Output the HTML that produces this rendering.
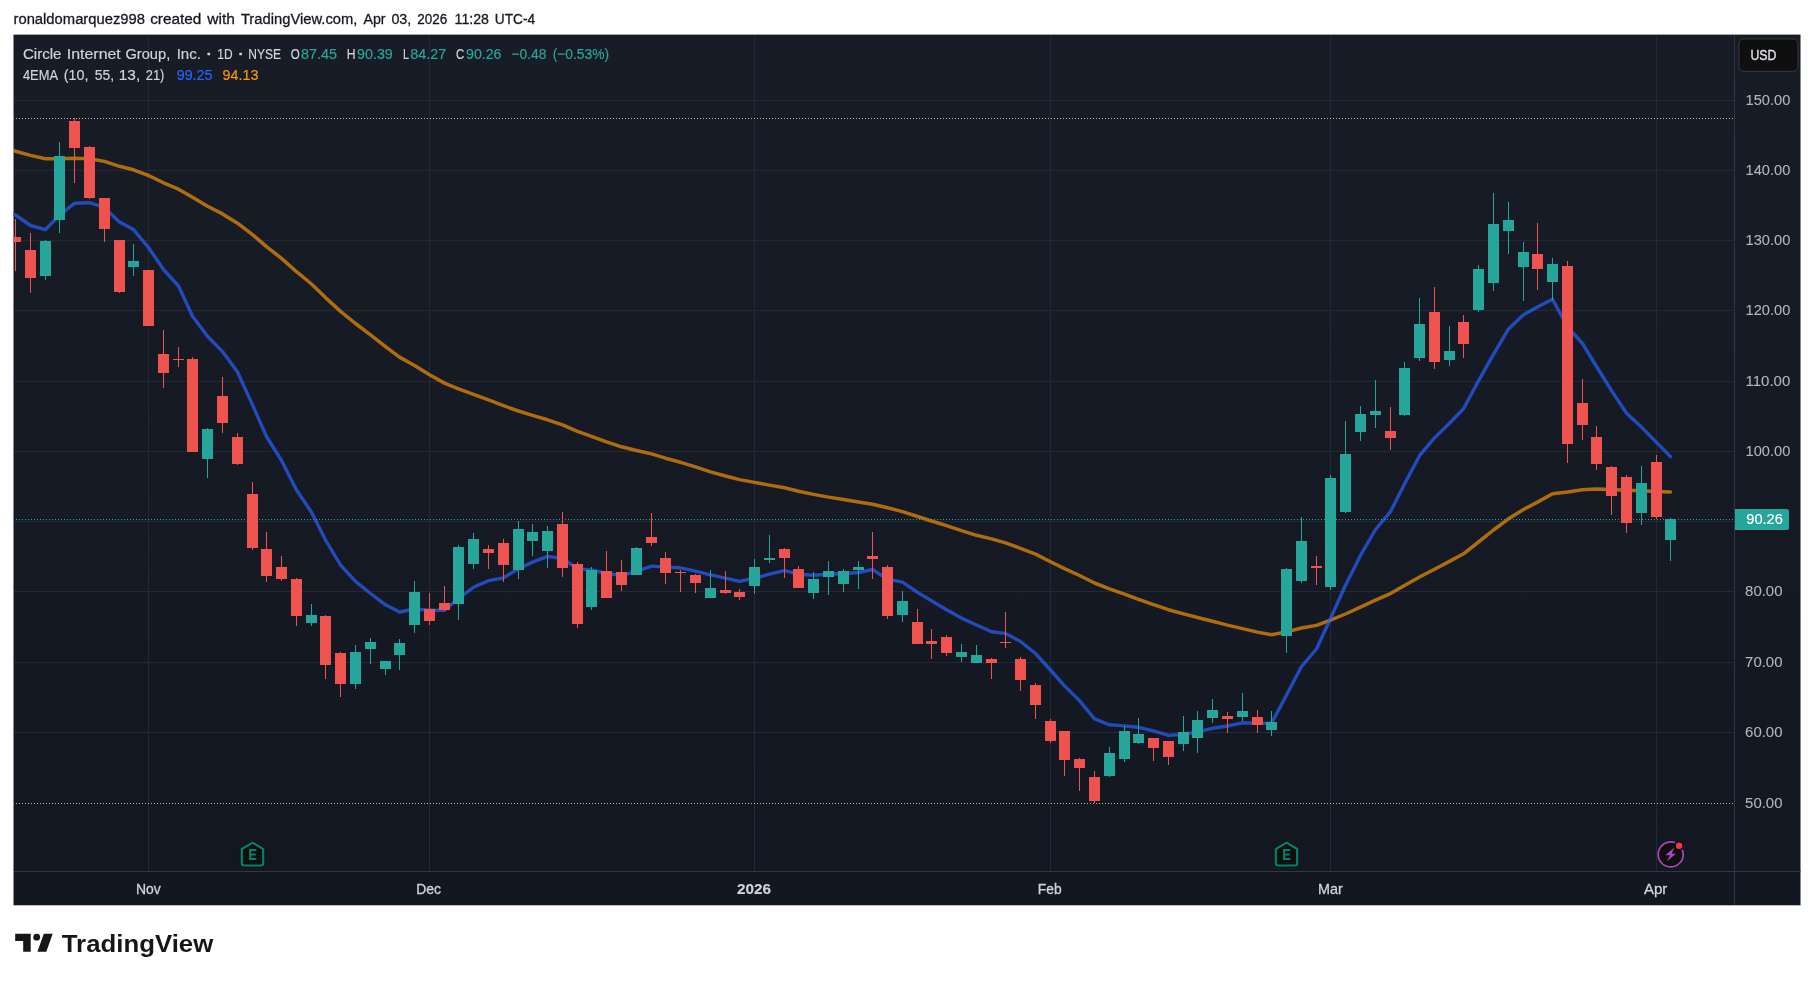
<!DOCTYPE html>
<html><head><meta charset="utf-8"><title>CRCL chart</title>
<style>html,body{margin:0;padding:0;background:#fff;}body{width:1814px;height:981px;overflow:hidden;font-family:"Liberation Sans",sans-serif;}svg{display:block;position:absolute;left:0;top:0;will-change:transform;}text{font-family:"Liberation Sans",sans-serif;}</style>
</head><body>
<svg width="1814" height="981" viewBox="0 0 1814 981">
<defs><linearGradient id="bg" x1="0" y1="0" x2="0" y2="1"><stop offset="0" stop-color="#181c27"/><stop offset="1" stop-color="#131722"/></linearGradient>
<clipPath id="pane"><rect x="13" y="35" width="1721" height="836"/></clipPath></defs>
<rect x="13.5" y="34.6" width="1787.0" height="870.6999999999999" fill="url(#bg)"/>
<rect x="14" y="100" width="1720" height="1" fill="#242834"/>
<rect x="14" y="170" width="1720" height="1" fill="#242834"/>
<rect x="14" y="240" width="1720" height="1" fill="#242834"/>
<rect x="14" y="310" width="1720" height="1" fill="#242834"/>
<rect x="14" y="381" width="1720" height="1" fill="#242834"/>
<rect x="14" y="451" width="1720" height="1" fill="#242834"/>
<rect x="14" y="521" width="1720" height="1" fill="#242834"/>
<rect x="14" y="591" width="1720" height="1" fill="#242834"/>
<rect x="14" y="662" width="1720" height="1" fill="#242834"/>
<rect x="14" y="732" width="1720" height="1" fill="#242834"/>
<rect x="148" y="35" width="1" height="836" fill="#242834"/>
<rect x="429" y="35" width="1" height="836" fill="#242834"/>
<rect x="754" y="35" width="1" height="836" fill="#242834"/>
<rect x="1050" y="35" width="1" height="836" fill="#242834"/>
<rect x="1330" y="35" width="1" height="836" fill="#242834"/>
<rect x="1656" y="35" width="1" height="836" fill="#242834"/>
<rect x="1734" y="35" width="1" height="870" fill="#323642"/>
<rect x="14" y="871" width="1786.5" height="1" fill="#323642"/>
<line x1="13" y1="118.5" x2="1734" y2="118.5" stroke="#b5b7be" stroke-width="1" stroke-dasharray="1 2" shape-rendering="crispEdges"/>
<line x1="13" y1="803.5" x2="1734" y2="803.5" stroke="#b5b7be" stroke-width="1" stroke-dasharray="1 2" shape-rendering="crispEdges"/>
<g clip-path="url(#pane)" fill="none" stroke-linejoin="round" stroke-linecap="round">
<polyline stroke="#ff9800" stroke-opacity="0.66" stroke-width="3.5" points="11.0,149.9 15.5,151.2 30.5,155.4 45.5,158.7 59.5,158.7 74.5,158.2 89.5,158.7 104.5,161.4 119.5,166.3 133.5,169.8 148.5,175.5 163.5,182.8 178.5,189.2 192.5,197.3 207.5,206.3 222.5,213.9 237.5,223.2 252.5,234.6 266.5,246.6 281.5,258.4 296.5,271.7 311.5,284.0 325.5,297.6 340.5,311.4 355.5,323.5 370.5,334.9 385.5,346.6 399.5,357.1 414.5,365.5 429.5,374.7 444.5,383.1 458.5,388.9 473.5,394.3 488.5,399.9 503.5,405.7 518.5,411.0 532.5,415.3 547.5,419.8 562.5,424.8 577.5,431.3 591.5,436.4 606.5,441.8 621.5,446.8 636.5,450.5 651.5,453.9 665.5,458.2 680.5,462.3 695.5,466.9 710.5,471.9 725.5,476.0 739.5,479.6 754.5,482.4 769.5,485.1 784.5,487.8 798.5,491.2 813.5,494.4 828.5,497.1 843.5,499.5 858.5,502.0 872.5,504.2 887.5,507.8 902.5,511.6 917.5,516.5 931.5,521.0 946.5,525.7 961.5,530.7 976.5,535.3 991.5,538.9 1005.5,542.9 1020.5,548.3 1035.5,554.1 1050.5,561.7 1064.5,568.6 1079.5,575.5 1094.5,583.0 1109.5,588.8 1124.5,594.1 1138.5,599.3 1153.5,604.7 1168.5,609.7 1183.5,613.9 1197.5,617.5 1212.5,621.2 1227.5,625.1 1242.5,628.6 1257.5,632.1 1271.5,634.8 1286.5,631.9 1301.5,628.0 1316.5,625.4 1330.5,620.1 1345.5,614.0 1360.5,607.1 1375.5,600.2 1390.5,593.6 1404.5,585.6 1419.5,577.0 1434.5,569.3 1449.5,561.4 1463.5,553.8 1478.5,542.0 1493.5,530.0 1508.5,518.8 1523.5,509.5 1537.5,502.1 1552.5,493.7 1567.5,492.0 1582.5,489.8 1596.5,489.0 1611.5,489.4 1626.5,490.2 1641.5,490.8 1656.5,491.4 1670.5,492.0"/>
<polyline stroke="#2962ff" stroke-opacity="0.69" stroke-width="3.4" points="11.0,213.5 15.5,215.0 30.5,225.5 45.5,229.6 59.5,215.0 74.5,203.3 89.5,202.7 104.5,207.5 119.5,222.1 133.5,229.6 148.5,247.5 163.5,269.5 178.5,286.0 192.5,316.3 207.5,336.2 222.5,351.6 237.5,372.0 252.5,404.9 266.5,436.5 281.5,460.5 296.5,490.0 311.5,512.2 325.5,540.0 340.5,565.0 355.5,581.4 370.5,593.5 385.5,604.8 399.5,612.0 414.5,609.0 429.5,610.3 444.5,610.3 458.5,598.5 473.5,587.3 488.5,580.6 503.5,577.8 518.5,568.8 532.5,562.1 547.5,556.4 562.5,558.5 577.5,568.9 591.5,569.9 606.5,573.5 621.5,575.4 636.5,571.4 651.5,566.1 665.5,567.1 680.5,567.8 695.5,571.1 710.5,574.9 725.5,578.2 739.5,581.3 754.5,578.2 769.5,574.2 784.5,570.6 798.5,574.2 813.5,575.3 828.5,574.3 843.5,573.8 858.5,572.5 872.5,569.5 887.5,579.1 902.5,582.2 917.5,592.4 931.5,600.7 946.5,609.7 961.5,618.1 976.5,625.0 991.5,631.7 1005.5,633.4 1020.5,641.5 1035.5,653.5 1050.5,670.0 1064.5,685.9 1079.5,700.6 1094.5,718.9 1109.5,724.8 1124.5,725.9 1138.5,727.3 1153.5,730.8 1168.5,735.4 1183.5,734.5 1197.5,731.6 1212.5,728.3 1227.5,726.0 1242.5,722.8 1257.5,723.2 1271.5,723.4 1286.5,695.0 1301.5,666.5 1316.5,649.0 1330.5,618.5 1345.5,585.3 1360.5,555.4 1375.5,529.5 1390.5,511.7 1404.5,484.0 1419.5,455.7 1434.5,437.9 1449.5,423.3 1463.5,408.8 1478.5,380.9 1493.5,354.4 1508.5,329.0 1523.5,314.8 1537.5,307.0 1552.5,299.3 1567.5,326.8 1582.5,343.5 1596.5,366.5 1611.5,390.6 1626.5,413.2 1641.5,427.1 1656.5,442.4 1670.5,456.6"/>
</g>
<line x1="13" y1="519.5" x2="1734" y2="519.5" stroke="#26a69a" stroke-width="1" stroke-dasharray="1 2" shape-rendering="crispEdges"/>
<g clip-path="url(#pane)" shape-rendering="crispEdges">
<rect x="15" y="219" width="1" height="52" fill="#ef5350"/>
<rect x="10" y="237" width="11" height="5" fill="#ef5350"/>
<rect x="30" y="233" width="1" height="60" fill="#ef5350"/>
<rect x="25" y="250" width="11" height="28" fill="#ef5350"/>
<rect x="45" y="240" width="1" height="40" fill="#26a69a"/>
<rect x="40" y="241" width="11" height="35" fill="#26a69a"/>
<rect x="59" y="142" width="1" height="91" fill="#26a69a"/>
<rect x="54" y="156" width="11" height="64" fill="#26a69a"/>
<rect x="74" y="118" width="1" height="65" fill="#ef5350"/>
<rect x="69" y="121" width="11" height="27" fill="#ef5350"/>
<rect x="89" y="146" width="1" height="53" fill="#ef5350"/>
<rect x="84" y="147" width="11" height="51" fill="#ef5350"/>
<rect x="104" y="198" width="1" height="44" fill="#ef5350"/>
<rect x="99" y="198" width="11" height="31" fill="#ef5350"/>
<rect x="119" y="240" width="1" height="53" fill="#ef5350"/>
<rect x="114" y="240" width="11" height="52" fill="#ef5350"/>
<rect x="133" y="244" width="1" height="32" fill="#26a69a"/>
<rect x="128" y="261" width="11" height="6" fill="#26a69a"/>
<rect x="148" y="270" width="1" height="56" fill="#ef5350"/>
<rect x="143" y="270" width="11" height="56" fill="#ef5350"/>
<rect x="163" y="330" width="1" height="58" fill="#ef5350"/>
<rect x="158" y="354" width="11" height="19" fill="#ef5350"/>
<rect x="178" y="347" width="1" height="20" fill="#ef5350"/>
<rect x="173" y="359" width="11" height="1" fill="#ef5350"/>
<rect x="192" y="357" width="1" height="95" fill="#ef5350"/>
<rect x="187" y="359" width="11" height="93" fill="#ef5350"/>
<rect x="207" y="428" width="1" height="50" fill="#26a69a"/>
<rect x="202" y="429" width="11" height="30" fill="#26a69a"/>
<rect x="222" y="377" width="1" height="56" fill="#ef5350"/>
<rect x="217" y="396" width="11" height="27" fill="#ef5350"/>
<rect x="237" y="433" width="1" height="32" fill="#ef5350"/>
<rect x="232" y="437" width="11" height="27" fill="#ef5350"/>
<rect x="252" y="482" width="1" height="68" fill="#ef5350"/>
<rect x="247" y="494" width="11" height="54" fill="#ef5350"/>
<rect x="266" y="532" width="1" height="50" fill="#ef5350"/>
<rect x="261" y="549" width="11" height="27" fill="#ef5350"/>
<rect x="281" y="556" width="1" height="25" fill="#ef5350"/>
<rect x="276" y="567" width="11" height="12" fill="#ef5350"/>
<rect x="296" y="578" width="1" height="48" fill="#ef5350"/>
<rect x="291" y="579" width="11" height="37" fill="#ef5350"/>
<rect x="311" y="604" width="1" height="22" fill="#26a69a"/>
<rect x="306" y="615" width="11" height="8" fill="#26a69a"/>
<rect x="325" y="615" width="1" height="64" fill="#ef5350"/>
<rect x="320" y="616" width="11" height="49" fill="#ef5350"/>
<rect x="340" y="652" width="1" height="45" fill="#ef5350"/>
<rect x="335" y="653" width="11" height="31" fill="#ef5350"/>
<rect x="355" y="645" width="1" height="44" fill="#26a69a"/>
<rect x="350" y="652" width="11" height="32" fill="#26a69a"/>
<rect x="370" y="638" width="1" height="26" fill="#26a69a"/>
<rect x="365" y="642" width="11" height="7" fill="#26a69a"/>
<rect x="385" y="661" width="1" height="14" fill="#26a69a"/>
<rect x="380" y="661" width="11" height="8" fill="#26a69a"/>
<rect x="399" y="639" width="1" height="31" fill="#26a69a"/>
<rect x="394" y="643" width="11" height="12" fill="#26a69a"/>
<rect x="414" y="581" width="1" height="52" fill="#26a69a"/>
<rect x="409" y="592" width="11" height="33" fill="#26a69a"/>
<rect x="429" y="593" width="1" height="32" fill="#ef5350"/>
<rect x="424" y="609" width="11" height="12" fill="#ef5350"/>
<rect x="444" y="586" width="1" height="25" fill="#ef5350"/>
<rect x="439" y="603" width="11" height="7" fill="#ef5350"/>
<rect x="458" y="545" width="1" height="75" fill="#26a69a"/>
<rect x="453" y="547" width="11" height="57" fill="#26a69a"/>
<rect x="473" y="533" width="1" height="36" fill="#26a69a"/>
<rect x="468" y="539" width="11" height="25" fill="#26a69a"/>
<rect x="488" y="545" width="1" height="24" fill="#ef5350"/>
<rect x="483" y="549" width="11" height="4" fill="#ef5350"/>
<rect x="503" y="539" width="1" height="43" fill="#ef5350"/>
<rect x="498" y="543" width="11" height="22" fill="#ef5350"/>
<rect x="518" y="521" width="1" height="58" fill="#26a69a"/>
<rect x="513" y="529" width="11" height="41" fill="#26a69a"/>
<rect x="532" y="524" width="1" height="32" fill="#26a69a"/>
<rect x="527" y="532" width="11" height="9" fill="#26a69a"/>
<rect x="547" y="526" width="1" height="42" fill="#26a69a"/>
<rect x="542" y="531" width="11" height="20" fill="#26a69a"/>
<rect x="562" y="512" width="1" height="65" fill="#ef5350"/>
<rect x="557" y="524" width="11" height="44" fill="#ef5350"/>
<rect x="577" y="562" width="1" height="66" fill="#ef5350"/>
<rect x="572" y="564" width="11" height="60" fill="#ef5350"/>
<rect x="591" y="567" width="1" height="43" fill="#26a69a"/>
<rect x="586" y="570" width="11" height="37" fill="#26a69a"/>
<rect x="606" y="551" width="1" height="47" fill="#ef5350"/>
<rect x="601" y="571" width="11" height="27" fill="#ef5350"/>
<rect x="621" y="560" width="1" height="31" fill="#ef5350"/>
<rect x="616" y="572" width="11" height="13" fill="#ef5350"/>
<rect x="636" y="547" width="1" height="28" fill="#26a69a"/>
<rect x="631" y="548" width="11" height="27" fill="#26a69a"/>
<rect x="651" y="513" width="1" height="33" fill="#ef5350"/>
<rect x="646" y="537" width="11" height="6" fill="#ef5350"/>
<rect x="665" y="552" width="1" height="32" fill="#ef5350"/>
<rect x="660" y="558" width="11" height="15" fill="#ef5350"/>
<rect x="680" y="570" width="1" height="22" fill="#ef5350"/>
<rect x="675" y="572" width="11" height="1" fill="#ef5350"/>
<rect x="695" y="574" width="1" height="19" fill="#ef5350"/>
<rect x="690" y="575" width="11" height="8" fill="#ef5350"/>
<rect x="710" y="570" width="1" height="28" fill="#26a69a"/>
<rect x="705" y="588" width="11" height="10" fill="#26a69a"/>
<rect x="725" y="571" width="1" height="23" fill="#ef5350"/>
<rect x="720" y="590" width="11" height="3" fill="#ef5350"/>
<rect x="739" y="589" width="1" height="11" fill="#ef5350"/>
<rect x="734" y="592" width="11" height="5" fill="#ef5350"/>
<rect x="754" y="559" width="1" height="35" fill="#26a69a"/>
<rect x="749" y="567" width="11" height="19" fill="#26a69a"/>
<rect x="769" y="535" width="1" height="28" fill="#26a69a"/>
<rect x="764" y="558" width="11" height="2" fill="#26a69a"/>
<rect x="784" y="548" width="1" height="30" fill="#ef5350"/>
<rect x="779" y="549" width="11" height="9" fill="#ef5350"/>
<rect x="798" y="566" width="1" height="22" fill="#ef5350"/>
<rect x="793" y="569" width="11" height="19" fill="#ef5350"/>
<rect x="813" y="572" width="1" height="27" fill="#26a69a"/>
<rect x="808" y="579" width="11" height="14" fill="#26a69a"/>
<rect x="828" y="561" width="1" height="34" fill="#26a69a"/>
<rect x="823" y="571" width="11" height="6" fill="#26a69a"/>
<rect x="843" y="569" width="1" height="23" fill="#26a69a"/>
<rect x="838" y="571" width="11" height="13" fill="#26a69a"/>
<rect x="858" y="561" width="1" height="28" fill="#26a69a"/>
<rect x="853" y="567" width="11" height="3" fill="#26a69a"/>
<rect x="872" y="532" width="1" height="47" fill="#ef5350"/>
<rect x="867" y="556" width="11" height="3" fill="#ef5350"/>
<rect x="887" y="565" width="1" height="54" fill="#ef5350"/>
<rect x="882" y="567" width="11" height="49" fill="#ef5350"/>
<rect x="902" y="591" width="1" height="31" fill="#26a69a"/>
<rect x="897" y="601" width="11" height="14" fill="#26a69a"/>
<rect x="917" y="609" width="1" height="35" fill="#ef5350"/>
<rect x="912" y="622" width="11" height="22" fill="#ef5350"/>
<rect x="931" y="629" width="1" height="30" fill="#ef5350"/>
<rect x="926" y="641" width="11" height="3" fill="#ef5350"/>
<rect x="946" y="635" width="1" height="21" fill="#ef5350"/>
<rect x="941" y="637" width="11" height="16" fill="#ef5350"/>
<rect x="961" y="644" width="1" height="18" fill="#26a69a"/>
<rect x="956" y="652" width="11" height="5" fill="#26a69a"/>
<rect x="976" y="645" width="1" height="18" fill="#26a69a"/>
<rect x="971" y="655" width="11" height="8" fill="#26a69a"/>
<rect x="991" y="658" width="1" height="21" fill="#ef5350"/>
<rect x="986" y="659" width="11" height="4" fill="#ef5350"/>
<rect x="1005" y="612" width="1" height="36" fill="#ef5350"/>
<rect x="1000" y="642" width="11" height="1" fill="#ef5350"/>
<rect x="1020" y="657" width="1" height="34" fill="#ef5350"/>
<rect x="1015" y="659" width="11" height="21" fill="#ef5350"/>
<rect x="1035" y="683" width="1" height="36" fill="#ef5350"/>
<rect x="1030" y="685" width="11" height="20" fill="#ef5350"/>
<rect x="1050" y="719" width="1" height="24" fill="#ef5350"/>
<rect x="1045" y="721" width="11" height="20" fill="#ef5350"/>
<rect x="1064" y="731" width="1" height="45" fill="#ef5350"/>
<rect x="1059" y="731" width="11" height="29" fill="#ef5350"/>
<rect x="1079" y="758" width="1" height="33" fill="#ef5350"/>
<rect x="1074" y="759" width="11" height="9" fill="#ef5350"/>
<rect x="1094" y="771" width="1" height="32" fill="#ef5350"/>
<rect x="1089" y="777" width="11" height="24" fill="#ef5350"/>
<rect x="1109" y="747" width="1" height="30" fill="#26a69a"/>
<rect x="1104" y="753" width="11" height="23" fill="#26a69a"/>
<rect x="1124" y="726" width="1" height="36" fill="#26a69a"/>
<rect x="1119" y="731" width="11" height="28" fill="#26a69a"/>
<rect x="1138" y="718" width="1" height="26" fill="#26a69a"/>
<rect x="1133" y="734" width="11" height="9" fill="#26a69a"/>
<rect x="1153" y="738" width="1" height="23" fill="#ef5350"/>
<rect x="1148" y="738" width="11" height="10" fill="#ef5350"/>
<rect x="1168" y="741" width="1" height="24" fill="#ef5350"/>
<rect x="1163" y="741" width="11" height="16" fill="#ef5350"/>
<rect x="1183" y="716" width="1" height="35" fill="#26a69a"/>
<rect x="1178" y="732" width="11" height="12" fill="#26a69a"/>
<rect x="1197" y="711" width="1" height="42" fill="#26a69a"/>
<rect x="1192" y="720" width="11" height="18" fill="#26a69a"/>
<rect x="1212" y="699" width="1" height="24" fill="#26a69a"/>
<rect x="1207" y="710" width="11" height="8" fill="#26a69a"/>
<rect x="1227" y="712" width="1" height="21" fill="#ef5350"/>
<rect x="1222" y="716" width="11" height="3" fill="#ef5350"/>
<rect x="1242" y="693" width="1" height="28" fill="#26a69a"/>
<rect x="1237" y="711" width="11" height="6" fill="#26a69a"/>
<rect x="1257" y="710" width="1" height="23" fill="#ef5350"/>
<rect x="1252" y="717" width="11" height="8" fill="#ef5350"/>
<rect x="1271" y="711" width="1" height="25" fill="#26a69a"/>
<rect x="1266" y="722" width="11" height="8" fill="#26a69a"/>
<rect x="1286" y="568" width="1" height="85" fill="#26a69a"/>
<rect x="1281" y="569" width="11" height="67" fill="#26a69a"/>
<rect x="1301" y="517" width="1" height="66" fill="#26a69a"/>
<rect x="1296" y="541" width="11" height="40" fill="#26a69a"/>
<rect x="1316" y="556" width="1" height="29" fill="#ef5350"/>
<rect x="1311" y="566" width="11" height="2" fill="#ef5350"/>
<rect x="1330" y="475" width="1" height="115" fill="#26a69a"/>
<rect x="1325" y="478" width="11" height="109" fill="#26a69a"/>
<rect x="1345" y="421" width="1" height="92" fill="#26a69a"/>
<rect x="1340" y="454" width="11" height="58" fill="#26a69a"/>
<rect x="1360" y="406" width="1" height="35" fill="#26a69a"/>
<rect x="1355" y="414" width="11" height="18" fill="#26a69a"/>
<rect x="1375" y="380" width="1" height="48" fill="#26a69a"/>
<rect x="1370" y="411" width="11" height="4" fill="#26a69a"/>
<rect x="1390" y="407" width="1" height="43" fill="#ef5350"/>
<rect x="1385" y="431" width="11" height="7" fill="#ef5350"/>
<rect x="1404" y="362" width="1" height="54" fill="#26a69a"/>
<rect x="1399" y="368" width="11" height="47" fill="#26a69a"/>
<rect x="1419" y="298" width="1" height="63" fill="#26a69a"/>
<rect x="1414" y="324" width="11" height="34" fill="#26a69a"/>
<rect x="1434" y="287" width="1" height="82" fill="#ef5350"/>
<rect x="1429" y="312" width="11" height="50" fill="#ef5350"/>
<rect x="1449" y="326" width="1" height="40" fill="#26a69a"/>
<rect x="1444" y="351" width="11" height="9" fill="#26a69a"/>
<rect x="1463" y="315" width="1" height="43" fill="#ef5350"/>
<rect x="1458" y="322" width="11" height="22" fill="#ef5350"/>
<rect x="1478" y="265" width="1" height="47" fill="#26a69a"/>
<rect x="1473" y="269" width="11" height="41" fill="#26a69a"/>
<rect x="1493" y="193" width="1" height="98" fill="#26a69a"/>
<rect x="1488" y="224" width="11" height="59" fill="#26a69a"/>
<rect x="1508" y="202" width="1" height="52" fill="#26a69a"/>
<rect x="1503" y="220" width="11" height="11" fill="#26a69a"/>
<rect x="1523" y="242" width="1" height="59" fill="#26a69a"/>
<rect x="1518" y="252" width="11" height="15" fill="#26a69a"/>
<rect x="1537" y="223" width="1" height="67" fill="#ef5350"/>
<rect x="1532" y="254" width="11" height="15" fill="#ef5350"/>
<rect x="1552" y="258" width="1" height="42" fill="#26a69a"/>
<rect x="1547" y="264" width="11" height="18" fill="#26a69a"/>
<rect x="1567" y="261" width="1" height="202" fill="#ef5350"/>
<rect x="1562" y="266" width="11" height="178" fill="#ef5350"/>
<rect x="1582" y="379" width="1" height="61" fill="#ef5350"/>
<rect x="1577" y="403" width="11" height="22" fill="#ef5350"/>
<rect x="1596" y="426" width="1" height="44" fill="#ef5350"/>
<rect x="1591" y="437" width="11" height="27" fill="#ef5350"/>
<rect x="1611" y="466" width="1" height="49" fill="#ef5350"/>
<rect x="1606" y="467" width="11" height="29" fill="#ef5350"/>
<rect x="1626" y="475" width="1" height="58" fill="#ef5350"/>
<rect x="1621" y="477" width="11" height="46" fill="#ef5350"/>
<rect x="1641" y="466" width="1" height="59" fill="#26a69a"/>
<rect x="1636" y="483" width="11" height="30" fill="#26a69a"/>
<rect x="1656" y="455" width="1" height="64" fill="#ef5350"/>
<rect x="1651" y="462" width="11" height="55" fill="#ef5350"/>
<rect x="1670" y="518" width="1" height="43" fill="#26a69a"/>
<rect x="1665" y="519" width="11" height="21" fill="#26a69a"/>
</g>
<g transform="translate(252.5,0)"><path d="M0,842.6 L10.7,849 L10.7,863.3 Q10.7,865.5 8.5,865.5 L-8.5,865.5 Q-10.7,865.5 -10.7,863.3 L-10.7,849 Z" fill="#0f0f0f" stroke="#0f0f0f" stroke-width="3.8" stroke-linejoin="round"/><path d="M0,842.6 L10.7,849 L10.7,863.3 Q10.7,865.5 8.5,865.5 L-8.5,865.5 Q-10.7,865.5 -10.7,863.3 L-10.7,849 Z" fill="#0f0f0f" stroke="#067f6b" stroke-width="2.2" stroke-linejoin="round"/><path d="M-3.4,849 H3.7 V851 H-1.3 V853.6 H3.2 V855.5 H-1.3 V858.1 H3.8 V860.1 H-3.4 Z" fill="#067f6b"/></g>
<g transform="translate(1286.5,0)"><path d="M0,842.6 L10.7,849 L10.7,863.3 Q10.7,865.5 8.5,865.5 L-8.5,865.5 Q-10.7,865.5 -10.7,863.3 L-10.7,849 Z" fill="#0f0f0f" stroke="#0f0f0f" stroke-width="3.8" stroke-linejoin="round"/><path d="M0,842.6 L10.7,849 L10.7,863.3 Q10.7,865.5 8.5,865.5 L-8.5,865.5 Q-10.7,865.5 -10.7,863.3 L-10.7,849 Z" fill="#0f0f0f" stroke="#067f6b" stroke-width="2.2" stroke-linejoin="round"/><path d="M-3.4,849 H3.7 V851 H-1.3 V853.6 H3.2 V855.5 H-1.3 V858.1 H3.8 V860.1 H-3.4 Z" fill="#067f6b"/></g>
<g>
<circle cx="1670.7" cy="854.4" r="13.6" fill="#0f0f0f"/>
<circle cx="1670.7" cy="854.4" r="12.5" fill="#0f0f0f" stroke="#ab47bc" stroke-width="1.7"/>
<path d="M1674,847.8 L1665.4,855.3 L1670.2,855.3 L1666.6,861.4 L1675.9,853.8 L1671.8,853.8 Z" fill="#ab47bc"/>
<circle cx="1679.1" cy="845.8" r="5" fill="#0f0f0f"/>
<circle cx="1679.1" cy="845.8" r="3.2" fill="#f23645"/>
</g>
<text x="1745.5" y="105.4" font-size="15.3" fill="#b2b5be" stroke="#b2b5be" stroke-width="0.1" textLength="44.8" lengthAdjust="spacingAndGlyphs">150.00</text>
<text x="1745.5" y="175.4" font-size="15.3" fill="#b2b5be" stroke="#b2b5be" stroke-width="0.1" textLength="44.8" lengthAdjust="spacingAndGlyphs">140.00</text>
<text x="1745.5" y="245.4" font-size="15.3" fill="#b2b5be" stroke="#b2b5be" stroke-width="0.1" textLength="44.8" lengthAdjust="spacingAndGlyphs">130.00</text>
<text x="1745.5" y="315.4" font-size="15.3" fill="#b2b5be" stroke="#b2b5be" stroke-width="0.1" textLength="44.8" lengthAdjust="spacingAndGlyphs">120.00</text>
<text x="1745.5" y="386.4" font-size="15.3" fill="#b2b5be" stroke="#b2b5be" stroke-width="0.1" textLength="44.8" lengthAdjust="spacingAndGlyphs">110.00</text>
<text x="1745.5" y="456.4" font-size="15.3" fill="#b2b5be" stroke="#b2b5be" stroke-width="0.1" textLength="44.8" lengthAdjust="spacingAndGlyphs">100.00</text>
<text x="1745.1" y="596.4" font-size="15.3" fill="#b2b5be" stroke="#b2b5be" stroke-width="0.1" textLength="37.4" lengthAdjust="spacingAndGlyphs">80.00</text>
<text x="1745.1" y="667.4" font-size="15.3" fill="#b2b5be" stroke="#b2b5be" stroke-width="0.1" textLength="37.4" lengthAdjust="spacingAndGlyphs">70.00</text>
<text x="1745.1" y="737.4" font-size="15.3" fill="#b2b5be" stroke="#b2b5be" stroke-width="0.1" textLength="37.4" lengthAdjust="spacingAndGlyphs">60.00</text>
<text x="1745.1" y="807.6999999999999" font-size="15.3" fill="#b2b5be" stroke="#b2b5be" stroke-width="0.1" textLength="37.4" lengthAdjust="spacingAndGlyphs">50.00</text>
<path d="M1735,509 H1787 Q1789,509 1789,511 V528 Q1789,530 1787,530 H1735 Z" fill="#26a69a"/>
<text x="1746.3" y="524.4" font-size="15.1" fill="#ffffff" stroke="#ffffff" stroke-width="0.15" textLength="36.6" lengthAdjust="spacingAndGlyphs">90.26</text>
<rect x="1739" y="38.9" width="59" height="32.4" rx="5" ry="5" fill="#0f0f0f" stroke="#363a45" stroke-width="1"/>
<text x="1750.4" y="59.5" font-size="14.5" fill="#e4e6ec" stroke="#e4e6ec" stroke-width="0.3" textLength="26" lengthAdjust="spacingAndGlyphs">USD</text>
<text x="135.9" y="894.2" font-size="15" fill="#d1d4dc" stroke="#d1d4dc" stroke-width="0.3" textLength="24.8" lengthAdjust="spacingAndGlyphs">Nov</text>
<text x="416.3" y="894.2" font-size="15" fill="#d1d4dc" stroke="#d1d4dc" stroke-width="0.3" textLength="24.8" lengthAdjust="spacingAndGlyphs">Dec</text>
<text x="737.0" y="894.2" font-size="15" fill="#d1d4dc" stroke="#d1d4dc" stroke-width="0.15" font-weight="bold" textLength="34" lengthAdjust="spacingAndGlyphs">2026</text>
<text x="1037.8" y="894.2" font-size="15" fill="#d1d4dc" stroke="#d1d4dc" stroke-width="0.3" textLength="23.8" lengthAdjust="spacingAndGlyphs">Feb</text>
<text x="1318.0" y="894.2" font-size="15" fill="#d1d4dc" stroke="#d1d4dc" stroke-width="0.3" textLength="24.8" lengthAdjust="spacingAndGlyphs">Mar</text>
<text x="1643.9" y="894.2" font-size="15" fill="#d1d4dc" stroke="#d1d4dc" stroke-width="0.3" textLength="23.3" lengthAdjust="spacingAndGlyphs">Apr</text>
<text x="13.5" y="24.2" font-size="15.5" fill="#131722" stroke="#131722" stroke-width="0.3" textLength="131.5" lengthAdjust="spacingAndGlyphs">ronaldomarquez998</text>
<text x="150.2" y="24.2" font-size="15.5" fill="#131722" stroke="#131722" stroke-width="0.3" textLength="51.2" lengthAdjust="spacingAndGlyphs">created</text>
<text x="207.2" y="24.2" font-size="15.5" fill="#131722" stroke="#131722" stroke-width="0.3" textLength="27.7" lengthAdjust="spacingAndGlyphs">with</text>
<text x="240.9" y="24.2" font-size="15.5" fill="#131722" stroke="#131722" stroke-width="0.3" textLength="116.5" lengthAdjust="spacingAndGlyphs">TradingView.com,</text>
<text x="363.5" y="24.2" font-size="15.5" fill="#131722" stroke="#131722" stroke-width="0.3" textLength="22.1" lengthAdjust="spacingAndGlyphs">Apr</text>
<text x="391.4" y="24.2" font-size="15.5" fill="#131722" stroke="#131722" stroke-width="0.3" textLength="19.9" lengthAdjust="spacingAndGlyphs">03,</text>
<text x="417.3" y="24.2" font-size="15.5" fill="#131722" stroke="#131722" stroke-width="0.3" textLength="30.0" lengthAdjust="spacingAndGlyphs">2026</text>
<text x="454.6" y="24.2" font-size="15.5" fill="#131722" stroke="#131722" stroke-width="0.3" textLength="34.4" lengthAdjust="spacingAndGlyphs">11:28</text>
<text x="494.8" y="24.2" font-size="15.5" fill="#131722" stroke="#131722" stroke-width="0.3" textLength="40.4" lengthAdjust="spacingAndGlyphs">UTC-4</text>
<text x="22.9" y="58.8" font-size="15" fill="#d1d4dc" stroke="#d1d4dc" stroke-width="0.18" textLength="38.6" lengthAdjust="spacingAndGlyphs">Circle</text>
<text x="66.8" y="58.8" font-size="15" fill="#d1d4dc" stroke="#d1d4dc" stroke-width="0.18" textLength="54.0" lengthAdjust="spacingAndGlyphs">Internet</text>
<text x="125.5" y="58.8" font-size="15" fill="#d1d4dc" stroke="#d1d4dc" stroke-width="0.18" textLength="44.7" lengthAdjust="spacingAndGlyphs">Group,</text>
<text x="176.7" y="58.8" font-size="15" fill="#d1d4dc" stroke="#d1d4dc" stroke-width="0.18" textLength="24.2" lengthAdjust="spacingAndGlyphs">Inc.</text>
<rect x="207.5" y="52.7" width="2.6" height="2.6" rx="0.6" fill="#d1d4dc"/>
<text x="217.3" y="58.8" font-size="15" fill="#d1d4dc" stroke="#d1d4dc" stroke-width="0.18" textLength="15.3" lengthAdjust="spacingAndGlyphs">1D</text>
<rect x="239.3" y="52.7" width="2.6" height="2.6" rx="0.6" fill="#d1d4dc"/>
<text x="248.3" y="58.8" font-size="15" fill="#d1d4dc" stroke="#d1d4dc" stroke-width="0.18" textLength="32.7" lengthAdjust="spacingAndGlyphs">NYSE</text>
<text x="290.7" y="58.8" font-size="15" fill="#d1d4dc" stroke="#d1d4dc" stroke-width="0.18" textLength="9.0" lengthAdjust="spacingAndGlyphs">O</text>
<text x="301.1" y="58.8" font-size="15" fill="#26a69a" stroke="#26a69a" stroke-width="0.18" textLength="36.0" lengthAdjust="spacingAndGlyphs">87.45</text>
<text x="346.8" y="58.8" font-size="15" fill="#d1d4dc" stroke="#d1d4dc" stroke-width="0.18" textLength="8.8" lengthAdjust="spacingAndGlyphs">H</text>
<text x="357" y="58.8" font-size="15" fill="#26a69a" stroke="#26a69a" stroke-width="0.18" textLength="35.8" lengthAdjust="spacingAndGlyphs">90.39</text>
<text x="402.9" y="58.8" font-size="15" fill="#d1d4dc" stroke="#d1d4dc" stroke-width="0.18" textLength="6.1" lengthAdjust="spacingAndGlyphs">L</text>
<text x="410.3" y="58.8" font-size="15" fill="#26a69a" stroke="#26a69a" stroke-width="0.18" textLength="35.9" lengthAdjust="spacingAndGlyphs">84.27</text>
<text x="456.1" y="58.8" font-size="15" fill="#d1d4dc" stroke="#d1d4dc" stroke-width="0.18" textLength="8.2" lengthAdjust="spacingAndGlyphs">C</text>
<text x="466" y="58.8" font-size="15" fill="#26a69a" stroke="#26a69a" stroke-width="0.18" textLength="35.5" lengthAdjust="spacingAndGlyphs">90.26</text>
<text x="511.4" y="58.8" font-size="15" fill="#26a69a" stroke="#26a69a" stroke-width="0.18" textLength="35.2" lengthAdjust="spacingAndGlyphs">−0.48</text>
<text x="552.7" y="58.8" font-size="15" fill="#26a69a" stroke="#26a69a" stroke-width="0.18" textLength="56.3" lengthAdjust="spacingAndGlyphs">(−0.53%)</text>
<text x="22.9" y="80.1" font-size="15" fill="#d1d4dc" stroke="#d1d4dc" stroke-width="0.18" textLength="35.1" lengthAdjust="spacingAndGlyphs">4EMA</text>
<text x="63.8" y="80.1" font-size="15" fill="#d1d4dc" stroke="#d1d4dc" stroke-width="0.18" textLength="24.7" lengthAdjust="spacingAndGlyphs">(10,</text>
<text x="94.7" y="80.1" font-size="15" fill="#d1d4dc" stroke="#d1d4dc" stroke-width="0.18" textLength="19.4" lengthAdjust="spacingAndGlyphs">55,</text>
<text x="118.8" y="80.1" font-size="15" fill="#d1d4dc" stroke="#d1d4dc" stroke-width="0.18" textLength="21.4" lengthAdjust="spacingAndGlyphs">13,</text>
<text x="145.8" y="80.1" font-size="15" fill="#d1d4dc" stroke="#d1d4dc" stroke-width="0.18" textLength="18.6" lengthAdjust="spacingAndGlyphs">21)</text>
<text x="176.7" y="80.1" font-size="15" fill="#2962ff" stroke="#2962ff" stroke-width="0.18" textLength="35.8" lengthAdjust="spacingAndGlyphs">99.25</text>
<text x="222.6" y="80.1" font-size="15" fill="#ff9800" stroke="#ff9800" stroke-width="0.18" textLength="35.8" lengthAdjust="spacingAndGlyphs">94.13</text>
<g fill="#161616">
<path d="M15.2,933.8 H30.7 V951.8 H23.2 V940.9 H15.2 Z"/>
<circle cx="36.7" cy="937.2" r="3.4"/>
<path d="M43.8,933.8 H52.7 L46.3,951.8 H37.4 Z"/>
<text x="61.8" y="951.8" font-size="24.7" font-weight="bold" textLength="151.4" lengthAdjust="spacingAndGlyphs">TradingView</text>
</g>
</svg></body></html>
